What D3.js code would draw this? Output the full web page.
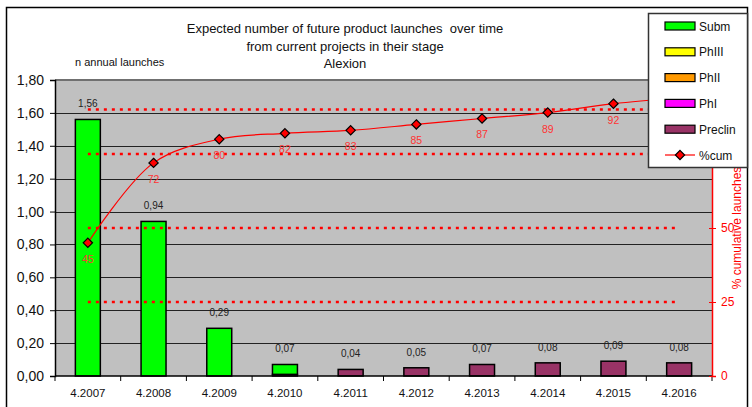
<!DOCTYPE html>
<html>
<head>
<meta charset="utf-8">
<script src="https://cdn.jsdelivr.net/npm/d3@7"></script>
<style>
  body { margin: 0; background: #fff; }
  svg { display: block; font-family: "Liberation Sans", Arial, sans-serif; }
</style>
</head>
<body>
<svg id="chart" width="752" height="407"></svg>
<script>
// data
var years = ['4.2007', '4.2008', '4.2009', '4.2010', '4.2011', '4.2012', '4.2013', '4.2014', '4.2015', '4.2016'];
var subm = [1.56, 0.94, 0.29, 0.06, 0, 0, 0, 0, 0, 0];
var phIII = [0, 0, 0, 0, 0, 0, 0, 0, 0, 0];
var phII = [0, 0, 0, 0, 0, 0, 0, 0, 0, 0];
var phI = [0, 0, 0, 0, 0, 0, 0, 0, 0, 0];
var preclin = [0, 0, 0, 0.01, 0.04, 0.05, 0.07, 0.08, 0.09, 0.08];
var cumPct = [45, 72, 80, 82, 83, 85, 87, 89, 92, 94];
var refLines = [25, 50, 75, 90];
var leftTicks = [0, 0.2, 0.4, 0.6, 0.8, 1.0, 1.2, 1.4, 1.6, 1.8];
var rightTicks = [0, 25, 50];   // 75 and 100 sit under the legend

var seriesNames = ['Subm', 'PhIII', 'PhII', 'PhI', 'Preclin'];
var seriesColors = ['#00ff00', '#ffff00', '#ff9900', '#ff00ff', '#993366'];

var svg = d3.select('#chart');
var pLeft = 55, pRight = 712, pTop = 80, pBottom = 376;

var loc = d3.formatLocale({decimal: ',', thousands: '.', grouping: [3], currency: ['', '']});
var fmt = loc.format('.2f');

var x = d3.scaleBand().domain(years).range([pLeft, pRight]).paddingInner(0.62).paddingOuter(0.31);
var y = d3.scaleLinear().domain([0, 1.8]).range([pBottom, pTop]);
var y2 = d3.scaleLinear().domain([0, 100]).range([pBottom, pTop]);
function cx(i) { return x(years[i]) + x.bandwidth() / 2; }

// outer frame
svg.append('rect').attr('x', 6.5).attr('y', 7.5).attr('width', 741).attr('height', 420)
    .attr('fill', 'none').attr('stroke', '#000').attr('stroke-width', 1.5);

// plot background
svg.append('rect').attr('x', pLeft).attr('y', pTop).attr('width', pRight - pLeft).attr('height', pBottom - pTop)
    .attr('fill', '#c0c0c0');
svg.append('line').attr('x1', pLeft).attr('x2', pRight).attr('y1', pTop).attr('y2', pTop)
    .attr('stroke', '#707070').attr('stroke-width', 2);

// gridlines
svg.append('g').selectAll('line').data(leftTicks.slice(1, -1)).join('line')
    .attr('x1', pLeft).attr('x2', pRight)
    .attr('y1', function(d) { return Math.round(y(d)) + 0.5; })
    .attr('y2', function(d) { return Math.round(y(d)) + 0.5; })
    .attr('stroke', '#222').attr('stroke-width', 1);

// stacked bars
var rows = years.map(function(yr, i) {
    return {year: yr, Subm: subm[i], PhIII: phIII[i], PhII: phII[i], PhI: phI[i], Preclin: preclin[i]};
});
var stack = d3.stack().keys(['Preclin', 'PhI', 'PhII', 'PhIII', 'Subm'])(rows);
var colorOf = {};
seriesNames.forEach(function(n, i) { colorOf[n] = seriesColors[i]; });

svg.append('g').selectAll('g').data(stack).join('g')
    .attr('fill', function(d) { return colorOf[d.key]; })
    .selectAll('rect').data(function(d) { return d.filter(function(v) { return v[1] - v[0] > 0; }); })
    .join('rect')
    .attr('x', function(d) { return x(d.data.year); })
    .attr('width', x.bandwidth())
    .attr('y', function(d) { return y(d[1]); })
    .attr('height', function(d) { return y(d[0]) - y(d[1]); })
    .attr('stroke', '#000').attr('stroke-width', 1.5);

// bar totals
var totals = years.map(function(yr, i) { return subm[i] + phIII[i] + phII[i] + phI[i] + preclin[i]; });
svg.append('g').selectAll('text').data(totals).join('text')
    .attr('x', function(d, i) { return cx(i); })
    .attr('y', function(d) { return y(d) - 12; })
    .attr('text-anchor', 'middle').attr('font-size', 10).attr('fill', '#222')
    .text(function(d) { return fmt(d); });

// red reference lines
svg.append('g').selectAll('line').data(refLines).join('line')
    .attr('x1', cx(0)).attr('x2', cx(years.length - 1))
    .attr('y1', function(d) { return y2(d); }).attr('y2', function(d) { return y2(d); })
    .attr('stroke', '#ff0000').attr('stroke-width', 2.5).attr('stroke-dasharray', '3,5');

// left axis
var gL = svg.append('g').attr('transform', 'translate(' + pLeft + ',0)')
    .call(d3.axisLeft(y).tickValues(leftTicks).tickSize(5).tickPadding(6).tickFormat(fmt));
gL.select('.domain').attr('stroke', '#000').attr('stroke-width', 1.5);
gL.selectAll('text').attr('font-size', 14).attr('fill', '#111').attr('font-family', '"Liberation Sans", Arial');

// bottom axis
svg.append('line').attr('x1', pLeft).attr('x2', pRight).attr('y1', pBottom).attr('y2', pBottom)
    .attr('stroke', '#000').attr('stroke-width', 1.5);
var bounds = d3.range(years.length + 1).map(function(i) { return pLeft + i * x.step(); });
svg.append('g').selectAll('line').data(bounds).join('line')
    .attr('x1', function(d) { return d; }).attr('x2', function(d) { return d; })
    .attr('y1', pBottom).attr('y2', pBottom + 5).attr('stroke', '#000');
svg.append('g').selectAll('text').data(years).join('text')
    .attr('x', function(d, i) { return cx(i); })
    .attr('y', 397).attr('text-anchor', 'middle').attr('font-size', 11.5).attr('fill', '#111')
    .text(function(d) { return d; });

// right axis
var gR = svg.append('g').attr('transform', 'translate(' + pRight + ',0)')
    .call(d3.axisRight(y2).tickValues(rightTicks).tickSize(4).tickPadding(5));
gR.select('.domain').attr('stroke', '#ff0000').attr('stroke-width', 1.5);
gR.selectAll('.tick line').attr('x1', -3).attr('stroke', '#ff0000');
gR.selectAll('text').attr('font-size', 12).attr('fill', '#ff0000').attr('font-family', '"Liberation Sans", Arial');
svg.append('text')
    .attr('transform', 'translate(741,' + ((pTop + pBottom) / 2) + ') rotate(-90)')
    .attr('text-anchor', 'middle').attr('font-size', 12).attr('fill', '#ff0000')
    .text('% cumulative launches');

// cumulative line
var line = d3.line()
    .x(function(d, i) { return cx(i); })
    .y(function(d) { return y2(d); })
    .curve(d3.curveCatmullRom.alpha(0.5));
svg.append('path').datum(cumPct).attr('d', line)
    .attr('fill', 'none').attr('stroke', '#ff0000').attr('stroke-width', 1.2);
var diamond = d3.symbol().type(d3.symbolDiamond2).size(55);
svg.append('g').selectAll('path').data(cumPct).join('path')
    .attr('transform', function(d, i) { return 'translate(' + cx(i) + ',' + y2(d) + ')'; })
    .attr('d', diamond).attr('fill', '#ff0000').attr('stroke', '#000').attr('stroke-width', 1.2);
svg.append('g').selectAll('text').data(cumPct).join('text')
    .attr('x', function(d, i) { return cx(i); })
    .attr('y', function(d) { return y2(d) + 20; })
    .attr('text-anchor', 'middle').attr('font-size', 10.5).attr('fill', '#ff3333')
    .text(function(d) { return d; });

// titles
svg.append('text').attr('x', 345).attr('y', 28).attr('text-anchor', 'middle').attr('font-size', 13).attr('fill', '#111')
    .selectAll('tspan').data(['Expected number of future product launches \u00a0over time', 'from current projects in their stage', 'Alexion'])
    .join('tspan').attr('x', 345).attr('dy', function(d, i) { return i === 0 ? 5 : 17.5; })
    .text(function(d) { return d; });
svg.append('text').attr('x', 75).attr('y', 66).attr('font-size', 11).attr('fill', '#111')
    .text('n annual launches');

// legend
var lg = svg.append('g').attr('transform', 'translate(648,13)');
lg.append('rect').attr('x', 0.5).attr('y', 0.5).attr('width', 99).attr('height', 154)
    .attr('fill', '#fff').attr('stroke', '#333').attr('stroke-width', 1.5);
var items = lg.selectAll('g').data(seriesNames.concat(['%cum'])).join('g')
    .attr('transform', function(d, i) { return 'translate(0,' + (13 + i * 25.8) + ')'; });
items.filter(function(d) { return d !== '%cum'; }).append('rect')
    .attr('x', 17).attr('y', -4).attr('width', 30).attr('height', 8)
    .attr('fill', function(d) { return colorOf[d]; }).attr('stroke', '#000').attr('stroke-width', 1.2);
var cumItem = items.filter(function(d) { return d === '%cum'; });
cumItem.append('line').attr('x1', 17).attr('x2', 47).attr('y1', 0).attr('y2', 0).attr('stroke', '#ff0000').attr('stroke-width', 1.2);
cumItem.append('path').attr('transform', 'translate(32,0)').attr('d', diamond)
    .attr('fill', '#ff0000').attr('stroke', '#000').attr('stroke-width', 1.2);
items.append('text').attr('x', 51).attr('y', 4.5).attr('font-size', 12).attr('fill', '#111')
    .text(function(d) { return d; });
</script>
</body>
</html>
